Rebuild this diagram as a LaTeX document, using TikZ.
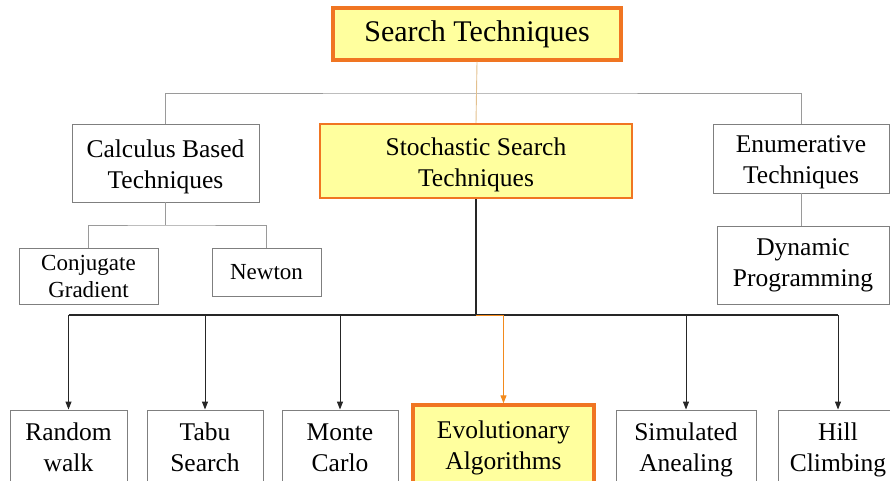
\documentclass[tikz,border=0pt]{standalone}
\usepackage{fontspec}
\setmainfont{Liberation Serif}
\usepackage{xcolor}
\usetikzlibrary{arrows.meta}
\definecolor{boxorange}{HTML}{F07522}
\definecolor{boxyellow}{HTML}{FFFF9E}
\definecolor{boxgray}{HTML}{7F7F7F}
\definecolor{linegray}{HTML}{9A9A9A}
\definecolor{linetan}{HTML}{E3C08E}
\definecolor{linedark}{HTML}{262626}
% struts above the first line and below the last one set where the text sits
\newcommand{\padtext}[3]{\rule{0pt}{#1}#3\rule[-#2]{0pt}{#2}}

\begin{document}
\begin{tikzpicture}[x=1pt, y=-1pt,
    % Box styles
    plain box/.style={draw=boxgray, line width=0.9pt, fill=white, align=center, inner sep=0pt,
      font=\fontsize{25.5}{31}\selectfont},
    small box/.style={plain box, font=\fontsize{23}{27}\selectfont},
    main box/.style={plain box, draw=boxorange, line width=2.4pt, fill=boxyellow},
    title box/.style={main box, line width=3.4pt, font=\fontsize{30}{36}\selectfont},
    % Connector styles
    gray line/.style={draw=linegray, line width=0.9pt},
    dark line/.style={draw=linedark, line width=1.4pt},
    my arrow/.style={-{Triangle[length=8pt, width=6pt]}, draw=linedark, line width=1pt},
    hot arrow/.style={-{Triangle[length=8pt, width=6pt]}, draw=boxorange!85!yellow, line width=1pt}
  ]
  \useasboundingbox (0,0) rectangle (890,481);

  % --- Top levels ---
  \node[title box, minimum width=288, minimum height=52] (search) at (477,34) {Search Techniques};
  \node[plain box, minimum width=187, minimum height=78] (calc) at (165.5,163) {\padtext{25pt}{6pt}{Calculus Based\\Techniques}};
  \node[main box, minimum width=312, minimum height=74] (stoch) at (476,161) {\padtext{25pt}{6pt}{Stochastic Search\\Techniques}};
  \node[plain box, minimum width=176, minimum height=69] (enum) at (801,158.5) {\padtext{25pt}{6pt}{Enumerative\\Techniques}};

  % --- Third level ---
  \node[small box, minimum width=139, minimum height=56] (conj) at (88.5,276) {\padtext{21pt}{5pt}{Conjugate\\Gradient}};
  \node[small box, minimum width=109, minimum height=48] (newt) at (266.5,272) {Newton};
  \node[plain box, minimum width=172, minimum height=78] (dyn) at (803,265) {Dynamic\\Programming};

  % --- Bottom row ---
  \node[plain box, minimum width=117, minimum height=72] (rand)  at (68.5,446) {\padtext{26pt}{6pt}{Random\\walk}};
  \node[plain box, minimum width=116, minimum height=72] (tabu)  at (205,446) {\padtext{26pt}{6pt}{Tabu\\Search}};
  \node[plain box, minimum width=116, minimum height=72] (monte) at (340,446) {\padtext{26pt}{6pt}{Monte\\Carlo}};
  \node[main box, line width=3.4pt, minimum width=181, minimum height=78] (evo) at (503.5,444) {\padtext{26pt}{6pt}{Evolutionary\\Algorithms}};
  \node[plain box, minimum width=140, minimum height=72] (sim)   at (686,446) {\padtext{26pt}{6pt}{Simulated\\Anealing}};
  \node[plain box, minimum width=120, minimum height=72] (hill)  at (838,446) {\padtext{26pt}{6pt}{Hill\\Climbing}};

  % --- Junctions ---
  \coordinate (top bar) at (477,93);
  \coordinate (calc bar) at (166,225);
  \coordinate (stoch bar) at (476,315);

  % --- Connectors ---
  \draw[gray line] (calc.north) |- (top bar) -| (enum.north);
  \draw[draw=linetan, line width=0.9pt] (search.south) -- (stoch.north);
  \draw[gray line] (calc.south) -- (calc.south |- calc bar);
  \draw[gray line] (conj.north) |- (calc bar) -| (newt.north);
  \draw[gray line] (enum.south) -- (enum.south |- dyn.north);

  \draw[dark line] (stoch.south) -- (stoch bar);
  \draw[dark line] (rand.north |- stoch bar) -- (hill.north |- stoch bar);
  \foreach \n in {rand, tabu, monte, sim, hill}
    \draw[my arrow] (\n.north |- stoch bar) -- (\n.north);
  \draw[hot arrow] (stoch bar) -| (evo.north);

\end{tikzpicture}
\end{document}
